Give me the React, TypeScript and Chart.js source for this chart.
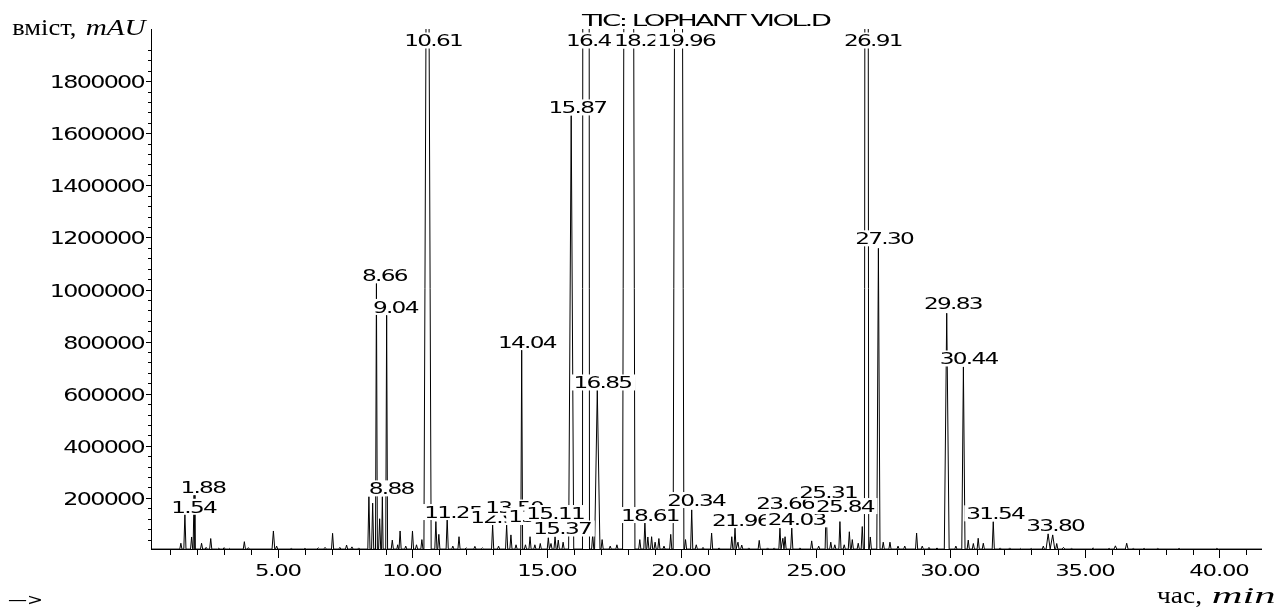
import React, { useEffect, useRef } from "react";
import { Chart, registerables } from "chart.js";

Chart.register(...registerables);

// ---- Chromatogram peaks (retention time in min, abundance, base width in min) ----
const peakTimes = [
  1.39, 1.54, 1.79, 1.88, 2.16, 2.33, 2.5, 2.8, 3.0, 3.2, 3.75, 3.9,
  4.83, 4.95, 5.5, 6.0, 6.5, 6.75, 7.03, 7.3, 7.55, 7.75, 8.0,
  8.38, 8.52, 8.66, 8.78, 8.88, 9.04, 9.25, 9.45, 9.54, 9.75, 10.0, 10.15,
  10.35, 10.56, 10.87, 10.98, 11.29, 11.5, 11.73, 12.0, 12.32, 12.6,
  12.98, 13.2, 13.5, 13.66, 13.85, 14.06, 14.2, 14.37, 14.55, 14.75,
  15.05, 15.15, 15.3, 15.42, 15.6, 15.9, 16.45, 16.7, 16.87, 17.05, 17.35, 17.6,
  18.04, 18.45, 18.64, 18.75, 18.89, 19.02, 19.16, 19.35, 19.6, 19.89, 20.15, 20.38, 20.55, 20.8,
  21.12, 21.4, 21.87, 21.99, 22.1, 22.24, 22.5, 22.89, 23.2, 23.45, 23.66, 23.77, 23.85, 24.1, 24.4,
  24.84, 25.1, 25.38, 25.55, 25.7, 25.89, 26.05, 26.24, 26.35, 26.57, 26.72, 26.88, 27.02, 27.32, 27.5, 27.75,
  28.05, 28.3, 28.74, 28.95, 29.2, 29.5, 29.86, 30.2, 30.48, 30.66, 30.85, 31.03, 31.22, 31.59,
  31.85, 32.2, 32.6, 33.0, 33.45, 33.63, 33.8, 33.95, 34.2, 34.5,
  35.3, 35.9, 36.13, 36.55, 36.8, 37.2, 37.7, 38.5, 39.9,
];
const peakHeights = [
  26000, 138000, 50000, 210000, 26000, 10000, 44000, 7000, 9000, 6000, 32000, 9000,
  73000, 15000, 6000, 6000, 8000, 10000, 64000, 10000, 19000, 12000, 8000,
  205000, 180000, 1024000, 120000, 205000, 901000, 38000, 20000, 73000, 15000, 73000, 20000,
  40000, 3500000, 109000, 60000, 122000, 15000, 51000, 8000, 14000, 8000,
  96000, 15000, 96000, 58000, 20000, 767000, 20000, 51000, 20000, 25000,
  47000, 25000, 51000, 38000, 30000, 1668000, 25000000, 60000, 614000, 40000, 15000, 20000,
  10000000, 40000, 109000, 50000, 51000, 30000, 44000, 15000, 60000, 8000000, 40000, 154000, 20000, 10000,
  65000, 8000, 51000, 84000, 30000, 19000, 8000, 37000, 8000, 8000, 84000, 45000, 51000, 84000, 8000,
  35000, 15000, 190000, 30000, 20000, 109000, 20000, 70000, 40000, 26000, 90000, 10000000, 50000, 1158000, 30000, 30000,
  15000, 15000, 65000, 15000, 10000, 8000, 909000, 15000, 703000, 38000, 25000, 45000, 26000, 109000,
  8000, 8000, 6000, 6000, 15000, 62000, 58000, 25000, 10000, 6000,
  8000, 6000, 16000, 26000, 6000, 6000, 6000, 6000, 6000,
];
const peakWidths = [
  0.08, 0.08, 0.08, 0.07, 0.08, 0.08, 0.08, 0.08, 0.08, 0.08, 0.08, 0.08,
  0.1, 0.08, 0.1, 0.1, 0.1, 0.1, 0.08, 0.08, 0.08, 0.08, 0.08,
  0.08, 0.08, 0.07, 0.08, 0.06, 0.07, 0.08, 0.06, 0.08, 0.08, 0.08, 0.08,
  0.08, 0.27, 0.08, 0.08, 0.08, 0.08, 0.08, 0.1, 0.08, 0.1,
  0.08, 0.08, 0.08, 0.08, 0.08, 0.07, 0.08, 0.08, 0.08, 0.08,
  0.08, 0.08, 0.08, 0.08, 0.08, 0.19, 0.26, 0.08, 0.2, 0.08, 0.08, 0.08,
  0.46, 0.08, 0.08, 0.08, 0.08, 0.08, 0.08, 0.08, 0.08, 0.4, 0.08, 0.08, 0.08, 0.08,
  0.08, 0.08, 0.08, 0.08, 0.08, 0.08, 0.08, 0.08, 0.08, 0.08, 0.08, 0.08, 0.08, 0.08, 0.08,
  0.08, 0.08, 0.08, 0.08, 0.08, 0.08, 0.08, 0.08, 0.08, 0.08, 0.08, 0.16, 0.08, 0.12, 0.08, 0.08,
  0.08, 0.08, 0.08, 0.08, 0.08, 0.08, 0.18, 0.08, 0.12, 0.08, 0.08, 0.08, 0.08, 0.08,
  0.08, 0.08, 0.08, 0.08, 0.08, 0.15, 0.15, 0.08, 0.1, 0.1,
  0.1, 0.1, 0.1, 0.1, 0.1, 0.1, 0.1, 0.1, 0.1,
];
const baselineLevel = 3500;

// integration baselines (blue)
const blueStarts = [1.45, 8.3, 10.42, 11.24, 12.93, 13.45, 14.02, 15.0, 16.6, 17.7, 19.5, 21.9, 23.6, 25.3, 26.8, 29.75, 30.4, 31.55, 33.4];
const blueEnds = [1.95, 9.12, 10.72, 11.34, 13.03, 13.72, 14.12, 16.1, 17.2, 18.7, 20.45, 22.2, 24.15, 26.0, 27.5, 30.0, 30.7, 31.65, 34.3];
const blueLevel = 1500;

// peak annotations: text, label centre (min, abundance)
const labelTexts = [
  "1.88", "1.54", "8.66", "9.04", "8.88", "10.61", "11.25", "12.98", "13.50", "13.66",
  "15.11", "15.37", "14.04", "15.87", "16.85", "16.45", "18.21", "19.96", "18.61", "20.34",
  "21.96", "23.66", "24.03", "25.31", "25.84", "26.91", "27.30", "29.83", "30.44", "31.54", "33.80",
];
const labelTimes = [
  2.238, 1.896, 8.989, 9.394, 9.238, 10.799, 11.543, 13.253, 13.81, 14.665,
  15.335, 15.595, 14.286, 16.164, 17.093, 16.81, 18.6, 20.204, 18.859, 20.576,
  22.238, 23.885, 24.312, 25.483, 26.108, 27.145, 27.565, 30.123, 30.706, 31.691, 33.922,
];
const labelValues = [
  242800, 166000, 1054600, 933100, 236600, 1955900, 145700, 126600, 163000, 130400,
  141900, 82500, 798800, 1698900, 643100, 1955900, 1955900, 1955900, 134200, 191750,
  115050, 179100, 117700, 223600, 168700, 1955900, 1196500, 946100, 735200, 140700, 95900,
];

// axes
const xMin = 0.28;
const xMax = 41.58;
const yMin = 0;
const yMax = 2000000;
const xMajorTicks = [5, 10, 15, 20, 25, 30, 35, 40];
const xTickLabels = ["5.00", "10.00", "15.00", "20.00", "25.00", "30.00", "35.00", "40.00"];
const xMinorStep = 1;
const xMinorLast = 41;
const yMajorTicks = [200000, 400000, 600000, 800000, 1000000, 1200000, 1400000, 1600000, 1800000];
const yTickLabels = ["200000", "400000", "600000", "800000", "1000000", "1200000", "1400000", "1600000", "1800000"];
const yMinorStep = 40000;
const yMinorLast = 1920000;

const titleText = "TIC: LOPHANT VIOL.D";
const yTitleMain = "вміст,";
const yTitleUnit = "mAU";
const xTitleMain = "час,";
const xTitleUnit = "min";

function buildTrace() {
  const pts: { x: number; y: number }[] = [];
  for (let i = 0; i < peakTimes.length; i++) {
    const t = peakTimes[i];
    const w = peakWidths[i] / 2;
    pts.push({ x: t - w, y: baselineLevel });
    pts.push({ x: t, y: peakHeights[i] });
    pts.push({ x: t + w, y: baselineLevel });
  }
  pts.sort((a, b) => a.x - b.x);
  return [{ x: xMin, y: baselineLevel }, ...pts, { x: xMax, y: baselineLevel }];
}

function buildBlue() {
  const pts: { x: number; y: number | null }[] = [];
  for (let i = 0; i < blueStarts.length; i++) {
    pts.push({ x: blueStarts[i], y: blueLevel });
    pts.push({ x: blueEnds[i], y: blueLevel });
    pts.push({ x: blueEnds[i] + 0.001, y: null });
  }
  return pts;
}

function measureLS(ctx: CanvasRenderingContext2D, text: string, font: string, ls: number) {
  ctx.save();
  ctx.font = font;
  (ctx as any).letterSpacing = ls + "px";
  const w = ctx.measureText(text).width;
  ctx.restore();
  return w;
}

// draws text horizontally stretched by sx with letter spacing ls (px, before stretch)
function drawStretched(
  ctx: CanvasRenderingContext2D,
  text: string,
  x: number,
  y: number,
  font: string,
  sx: number,
  ls: number,
  align: "left" | "center" | "right"
) {
  const w = (measureLS(ctx, text, font, ls) - ls) * sx;
  const left = align === "center" ? x - w / 2 : align === "right" ? x - w : x;
  ctx.save();
  ctx.font = font;
  (ctx as any).letterSpacing = ls + "px";
  ctx.translate(left, y);
  ctx.scale(sx, 1);
  ctx.textAlign = "left";
  ctx.textBaseline = "alphabetic";
  ctx.fillText(text, 0, 0);
  ctx.restore();
  return w;
}

function drawFit(ctx: CanvasRenderingContext2D, text: string, x: number, y: number, font: string, width: number, ls = 0) {
  const nat = measureLS(ctx, text, font, ls) - ls;
  ctx.save();
  ctx.font = font;
  (ctx as any).letterSpacing = ls + "px";
  ctx.translate(x, y);
  ctx.scale(width / nat, 1);
  ctx.textAlign = "left";
  ctx.textBaseline = "alphabetic";
  ctx.fillText(text, 0, 0);
  ctx.restore();
}

const decorPlugin = {
  id: "chromDecor",
  afterDraw(chart: any) {
    const ctx: CanvasRenderingContext2D = chart.ctx;
    const xs = chart.scales.x;
    const ys = chart.scales.y;
    const { left, right, top, bottom } = chart.chartArea;
    ctx.save();
    ctx.fillStyle = "#000";

    // peak labels with white boxes
    const labFont = "16px 'DejaVu Sans'";
    const labSx = 1.45;
    const labLs = -1.2;
    for (let i = 0; i < labelTexts.length; i++) {
      const px = xs.getPixelForValue(labelTimes[i]);
      const py = ys.getPixelForValue(labelValues[i]);
      const w = (measureLS(ctx, labelTexts[i], labFont, labLs) - labLs) * labSx;
      ctx.fillStyle = "#fff";
      ctx.fillRect(px - w / 2 - 2, py - 8, w + 4, 16);
      ctx.fillStyle = "#000";
      drawStretched(ctx, labelTexts[i], px, py + 5.8, labFont, labSx, labLs, "center");
    }

    // axes lines
    ctx.fillStyle = "#000";
    ctx.fillRect(left, top, 1, bottom - top);
    ctx.fillRect(left, bottom - 1, right - left, 1);

    // y ticks
    for (let v = yMinorStep; v <= yMinorLast; v += yMinorStep) {
      const py = Math.round(ys.getPixelForValue(v));
      const major = yMajorTicks.indexOf(v) >= 0;
      const len = major ? 5 : 3;
      ctx.fillRect(left - len, py, len, 1);
    }
    for (let i = 0; i < yMajorTicks.length; i++) {
      const py = Math.round(ys.getPixelForValue(yMajorTicks[i]));
      drawStretched(ctx, yTickLabels[i], left - 5.3, py + 7, "17px 'DejaVu Sans'", 1.4, -1.2, "right");
    }

    // x ticks
    for (let m = xMinorStep; m <= xMinorLast; m += xMinorStep) {
      const px = Math.round(xs.getPixelForValue(m));
      const major = xMajorTicks.indexOf(m) >= 0;
      ctx.fillRect(px, bottom, 1, major ? 8 : 5);
    }
    for (let i = 0; i < xMajorTicks.length; i++) {
      const px = Math.round(xs.getPixelForValue(xMajorTicks[i]));
      drawStretched(ctx, xTickLabels[i], px + 0.5, bottom + 26, "15px 'DejaVu Sans'", 1.52, -0.8, "center");
    }

    // title
    drawFit(ctx, titleText, 582, 26, "16.5px 'DejaVu Sans'", 250, -1.5);

    // axis titles
    drawFit(ctx, yTitleMain, 12.3, 35, "23px 'Liberation Serif'", 64);
    drawFit(ctx, yTitleUnit, 85.7, 35, "italic 24px 'Liberation Serif'", 60);
    drawFit(ctx, xTitleMain, 1157, 603, "23px 'Liberation Serif'", 45);
    drawFit(ctx, xTitleUnit, 1211.7, 603, "italic 24px 'Liberation Serif'", 64);

    // small arrow mark at bottom-left
    drawFit(ctx, "—>", 8, 605, "16px 'DejaVu Sans'", 35);

    ctx.restore();
  },
};

export default function App() {
  const ref = useRef<HTMLCanvasElement | null>(null);
  useEffect(() => {
    if (!ref.current) return;
    const chart = new Chart(ref.current, {
      type: "line",
      data: {
        datasets: [
          {
            label: "TIC",
            data: buildTrace(),
            borderColor: "#000",
            borderWidth: 1,
            pointRadius: 0,
            tension: 0,
            fill: false,
          },
          {
            label: "baseline",
            data: buildBlue() as any,
            borderColor: "#2a2aa8",
            borderWidth: 1,
            pointRadius: 0,
            tension: 0,
            fill: false,
            spanGaps: false,
          },
        ],
      },
      options: {
        animation: false,
        responsive: false,
        devicePixelRatio: 1,
        layout: { padding: { left: 151, right: 14, top: 29, bottom: 65 } },
        plugins: {
          legend: { display: false },
          tooltip: { enabled: false },
          title: { display: false },
        },
        events: [],
        scales: {
          x: { type: "linear", min: xMin, max: xMax, display: false },
          y: { type: "linear", min: yMin, max: yMax, display: false },
        },
      },
      plugins: [decorPlugin],
    });
    return () => chart.destroy();
  }, []);
  return (
    <div style={{ position: "fixed", left: 0, top: 0, width: 1276, height: 615, background: "#fff" }}>
      <canvas ref={ref} width={1276} height={615} style={{ display: "block" }} />
    </div>
  );
}
